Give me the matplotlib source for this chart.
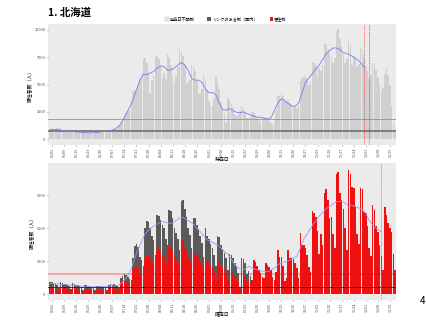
import numpy as np
import pandas as pd
import matplotlib
matplotlib.use("Agg")
import matplotlib.pyplot as plt
from matplotlib.patches import Patch

plt.rcParams['font.family'] = ['Noto Sans CJK JP', 'DejaVu Sans']

# ---- data ----
dates = pd.date_range('2022-06-01', '2022-12-18')

# onset-date counts (top panel), 06/01 .. 12/18
onset = (
    # June
    [950, 900, 880, 820, 1000, 1050, 900, 850, 800, 780, 720, 700, 860, 820, 760,
     700, 650, 620, 560, 720, 700, 640, 600, 560, 520, 480, 650, 640, 600, 580] +
    # July
    [700, 620, 560, 820, 780, 760, 800, 860, 900, 880, 1300, 1500, 1700, 2000, 2400,
     2600, 2700, 3500, 4400, 4500, 4300, 5000, 5500, 5600, 7300, 7400, 7000, 6200,
     4200, 5400, 5900] +
    # August
    [7500, 7600, 7300, 6800, 5700, 6100, 5500, 7800, 7500, 6800, 5600, 5200, 5800,
     6600, 8300, 8000, 7600, 6800, 5000, 5200, 5400, 6800, 6600, 6200, 5300, 4200,
     4100, 4600, 5900, 5400, 4500] +
    # September
    [3500, 2900, 3000, 3800, 5800, 5200, 4600, 3400, 2800, 2400, 1500, 3800, 3500,
     3200, 2800, 2200, 2000, 2200, 2600, 3000, 2800, 2500, 1900, 1900, 2000, 2500,
     2400, 2200, 1900, 1700] +
    # October
    [1600, 1700, 2000, 1900, 1800, 1700, 1500, 1300, 1600, 2600, 3900, 4000, 4100,
     3900, 3500, 3300, 3600, 3300, 3100, 3000, 2900, 2800, 3100, 5300, 5600, 5700,
     5900, 5500, 5000, 5300, 7100] +
    # November
    [7000, 6800, 5600, 6500, 6200, 6800, 8800, 8700, 8300, 7800, 7500, 7000, 7400,
     9900, 10100, 9200, 8400, 7800, 7000, 7300, 9200, 8600, 6800, 7600, 7300, 6600,
     6900, 8400, 8200, 7500] +
    # December
    [6700, 6200, 5600, 5900, 7000, 6900, 6300, 5700, 5000, 4500, 4700, 6000, 6500,
     5900, 5000, 3000, 1600, 700]
)

onset_trend_dates = ['06-01', '06-05', '06-09', '06-13', '06-17', '06-21', '06-25', '06-29',
                     '07-03', '07-07', '07-09', '07-11', '07-13', '07-15', '07-17', '07-19',
                     '07-21', '07-23', '07-25', '07-27', '07-29', '07-31', '08-02', '08-04',
                     '08-06', '08-08', '08-10', '08-12', '08-14', '08-16', '08-18', '08-20',
                     '08-22', '08-24', '08-26', '08-28', '08-30', '09-01', '09-03', '09-05',
                     '09-07', '09-09', '09-11', '09-13', '09-15', '09-17', '09-19', '09-21',
                     '09-23', '09-25', '09-27', '09-29', '10-01', '10-03', '10-05', '10-07',
                     '10-09', '10-11', '10-13', '10-15', '10-17', '10-19', '10-21', '10-23',
                     '10-25', '10-27', '10-29', '10-31', '11-02', '11-04', '11-06', '11-08',
                     '11-10', '11-12', '11-14', '11-16', '11-18', '11-20', '11-22', '11-24',
                     '11-26', '11-28', '11-30']
onset_trend = [900, 850, 780, 700, 640, 580, 560, 620,
               700, 820, 950, 1200, 1700, 2300, 2900, 3600,
               4500, 5400, 5950, 5900, 6050, 6200, 6500, 6700,
               6650, 6300, 6350, 6500, 6800, 7000, 6800, 6300,
               5550, 5400, 5400, 5200, 4600, 4250, 4250, 4100,
               3300, 2700, 2650, 2800, 2600, 2450, 2400, 2500,
               2350, 2200, 2100, 2000, 2000, 1900, 1850, 1950,
               2600, 3300, 3700, 3500, 3250, 3050, 3000, 3300,
               4200, 5200, 5600, 6000, 6400, 6800, 7300, 7800,
               8100, 8350, 8350, 8200, 7900, 7850, 7700, 7500,
               7300, 7000, 6600]

# confirmation-date counts (bottom panel), total and red part
confirmed = (
    [1150, 1100, 1000, 950, 800, 550, 1100, 1050, 950, 900, 820, 720, 480, 1000, 950,
     880, 800, 740, 640, 420, 850, 800, 760, 700, 650, 560, 380, 780, 760, 740] +
    [700, 650, 580, 420, 880, 900, 880, 900, 860, 780, 600, 1500, 1700, 1800, 1750,
     1600, 1400, 1300, 3300, 4400, 4600, 4300, 3400, 3100, 2600, 6000, 6700, 6600,
     6000, 5300, 4900] +
    [3600, 7200, 7100, 6800, 6300, 6000, 5000, 4500, 7700, 7600, 6900, 6000, 5600,
     5000, 4000, 8500, 8600, 7800, 7000, 6000, 5400, 4200, 6900, 6900, 6300, 5900,
     5300, 4700, 3400, 6000, 5300] +
    [5000, 4600, 4200, 3600, 2600, 5300, 5200, 4500, 4100, 3800, 3300, 2200, 3700,
     3600, 3300, 2800, 2500, 1900, 700, 3300, 3200, 2800, 1800, 2100, 1700, 1300,
     3100, 2900, 2600, 2200] +
    [1900, 1600, 1500, 2800, 2700, 2500, 2200, 1600, 1300, 2000, 4000, 3400, 3400,
     2600, 1200, 1500, 4000, 3300, 3300, 3200, 2800, 2400, 1500, 5600, 4500, 4500,
     4200, 3600, 2500, 2000, 7600] +
    [7400, 7000, 5800, 3700, 5500, 4500, 9200, 9600, 8600, 6900, 7000, 5500, 4200,
     10900, 11100, 9200, 8600, 7800, 6000, 4000, 11300, 10900, 9800, 9700, 8000, 5500,
     4600, 9700, 9600, 7500] +
    [7400, 6200, 4200, 3500, 8100, 7700, 6200, 5700, 4500, 3500, 2200, 7900, 7200,
     6500, 6000, 5700, 3700, 2200]
)
confirmed_red = (
    [700, 650, 600, 560, 480, 330, 650, 620, 560, 530, 480, 430, 290, 600, 560,
     520, 470, 440, 380, 250, 500, 470, 450, 410, 380, 330, 220, 460, 450, 440] +
    [420, 390, 350, 250, 530, 540, 530, 540, 520, 470, 360, 1100, 1150, 1150, 1100,
     1000, 900, 800, 2300, 2500, 2600, 2400, 1900, 1500, 1300, 3300, 3600, 3500,
     3300, 2900, 2700] +
    [2000, 4200, 4100, 3900, 3600, 3400, 2800, 2500, 4400, 4300, 3900, 3400, 3200,
     2800, 2200, 4800, 4900, 4300, 3900, 3400, 3000, 2300, 3800, 3800, 3500, 3300,
     2900, 2600, 1900, 3400, 3000] +
    [2900, 2700, 2400, 2100, 1500, 3100, 3000, 2600, 2400, 2200, 1900, 1300, 2200,
     2100, 1900, 1600, 1500, 1100, 400, 2000, 1900, 1700, 1100, 1300, 1000, 1300,
     3100, 2900, 2600, 2200] +
    [1900, 1600, 1500, 2800, 2700, 2500, 2200, 1600, 1300, 2000, 4000, 3400, 3400,
     2600, 1200, 1500, 4000, 3300, 3300, 3200, 2800, 2400, 1500, 5600, 4500, 4500,
     4200, 3600, 2500, 2000, 7600] +
    [7400, 7000, 5800, 3700, 5500, 4500, 9200, 9600, 8600, 6900, 7000, 5500, 4200,
     10900, 11100, 9200, 8600, 7800, 6000, 4000, 11300, 10900, 9800, 9700, 8000, 5500,
     4600, 9700, 9600, 7500] +
    [7400, 6200, 4200, 3500, 8100, 7700, 6200, 5700, 4500, 3500, 2200, 7900, 7200,
     6500, 6000, 5700, 3700, 2200]
)

conf_trend_dates = ['06-01', '06-05', '06-09', '06-13', '06-17', '06-21', '06-25', '06-29',
                    '07-03', '07-07', '07-10', '07-12', '07-14', '07-16', '07-18', '07-20',
                    '07-22', '07-24', '07-26', '07-28', '07-30', '08-01', '08-03', '08-05',
                    '08-07', '08-09', '08-11', '08-13', '08-15', '08-17', '08-19', '08-21',
                    '08-23', '08-25', '08-27', '08-29', '08-31', '09-02', '09-04', '09-06',
                    '09-08', '09-10', '09-12', '09-14', '09-16', '09-18', '09-20', '09-22',
                    '09-24', '09-26', '09-28', '09-30', '10-02', '10-04', '10-06', '10-08',
                    '10-10', '10-12', '10-14', '10-16', '10-18', '10-20', '10-22', '10-24',
                    '10-26', '10-28', '10-30', '11-01', '11-03', '11-05', '11-07', '11-09',
                    '11-11', '11-13', '11-15', '11-17', '11-19', '11-21', '11-23', '11-25',
                    '11-27', '11-29', '12-01', '12-03', '12-05', '12-07', '12-09', '12-10']
conf_trend = [1000, 950, 880, 830, 760, 720, 680, 680,
              720, 760, 800, 950, 1300, 1700, 2300, 3300,
              4100, 4800, 5500, 5800, 6100, 6300, 6500, 6600,
              6550, 6450, 6500, 6700, 6950, 7000, 6800, 6600,
              6400, 6000, 5700, 5300, 4950, 4800, 4650, 4500,
              4200, 3900, 3650, 3200, 2700, 2400, 2250, 2300,
              2550, 2400, 2250, 2200, 2100, 2050, 2100, 2300,
              2500, 2800, 2950, 2970, 3100, 3300, 3450, 4200,
              5000, 5500, 6000, 6500, 6900, 7300, 7600, 7900,
              8100, 8350, 8450, 8450, 8300, 8000, 8100, 7950,
              7850, 7700, 7350, 6700, 6300, 6000, 5800, 5700]

top_red_level = 1830
top_grey_level = 700
bot_red_level = 1850
bot_black_level = 700

# ---- helpers ----
origin = pd.Timestamp('2022-06-02')
x = np.array((dates - origin).days)
def to_x(md):
    return np.array([(pd.Timestamp('2022-' + d) - origin).days for d in md])

tick_x = np.arange(0, 197, 7)
tick_lab = [(origin + pd.Timedelta(days=int(d))).strftime('%m/%d') for d in tick_x]

onset = np.array(onset)
confirmed = np.array(confirmed)
confirmed_red = np.array(confirmed_red)

fig = plt.figure(figsize=(4.27, 3.2), dpi=100)
bg = '#ebebeb'
xlim = (-2.3, 199.5)

def style(ax):
    ax.set_facecolor(bg)
    for s in ax.spines.values():
        s.set_visible(False)
    ax.set_xlim(*xlim)
    ax.set_xticks(tick_x)
    ax.set_xticklabels(tick_lab, rotation=90, fontsize=2.6, color='#4d4d4d')
    ax.tick_params(axis='both', length=1.0, width=0.4, color='#4d4d4d', pad=0.8)
    ax.tick_params(axis='y', labelsize=2.8, labelcolor='#4d4d4d')

# top panel
ax1 = fig.add_axes([48/427, 1-145/320, 348/427, 121/320])
style(ax1)
ax1.bar(x, onset, width=0.9, color='#d0d0d0', zorder=1)
ax1.plot(to_x(onset_trend_dates), onset_trend, color='#7a7af0', lw=0.6, zorder=3)
ax1.axhline(top_red_level, color='#e07070', lw=0.6, zorder=2)
ax1.axhline(top_grey_level, color='#6e6e6e', lw=1.2, zorder=2)
ax1.axvline(181, color='#e03030', lw=0.5, ls=(0, (1.5, 1.5)), zorder=4)
ax1.axvline(184, color='#555555', lw=0.5, ls=(0, (1.5, 1.5)), zorder=4)
ax1.set_ylim(-550, 10550)
ax1.set_yticks([0, 2500, 5000, 7500, 10000])
ax1.set_ylabel('陽性者数（人）', fontsize=3.5, labelpad=2)
ax1.set_xlabel('発症日', fontsize=3.5, labelpad=0.3)

# bottom panel
ax2 = fig.add_axes([48/427, 1-300/320, 348/427, 137/320])
style(ax2)
ax2.axhline(bot_red_level, color='#f4a0a0', lw=1.3, zorder=1)
ax2.bar(x, confirmed_red, width=0.9, color='#ee1111', zorder=2)
ax2.bar(x, confirmed - confirmed_red, bottom=confirmed_red, width=0.9,
        color='#5a5a5a', zorder=2)
ax2.plot(to_x(conf_trend_dates), conf_trend, color='#9a9af5', lw=0.6, zorder=3)
ax2.axhline(bot_black_level, color='#222222', lw=0.6, zorder=3)
ax2.axvline(191, color='#e05050', lw=0.5, ls=(0, (1.5, 1.5)), zorder=4)
ax2.set_ylim(-520, 11940)
ax2.set_yticks([0, 3000, 6000, 9000])
ax2.set_ylabel('陽性者数（人）', fontsize=3.5, labelpad=2)
ax2.set_xlabel('確定日', fontsize=3.5, labelpad=0.3)

# title, legend, page number
fig.text(48/427, 1-12.5/320, '1. 北海道', fontsize=7.5, fontweight='bold', va='center')
handles = [Patch(facecolor='#e8e8e8', edgecolor='#bbbbbb', lw=0.3),
           Patch(facecolor='#5a5a5a'),
           Patch(facecolor='#ee1111')]
fig.legend(handles, ['発症日不明例', 'リンクのある例（国内）', '居住例'],
           loc='center', bbox_to_anchor=(226/427, 1-19/320), ncol=3, frameon=False,
           fontsize=3, handlelength=0.8, handleheight=0.8, handletextpad=0.3,
           columnspacing=3)
fig.text(423/427, 1-301/320, '4', fontsize=7, ha='center', va='center')

fig.savefig('out.png', dpi=100)
